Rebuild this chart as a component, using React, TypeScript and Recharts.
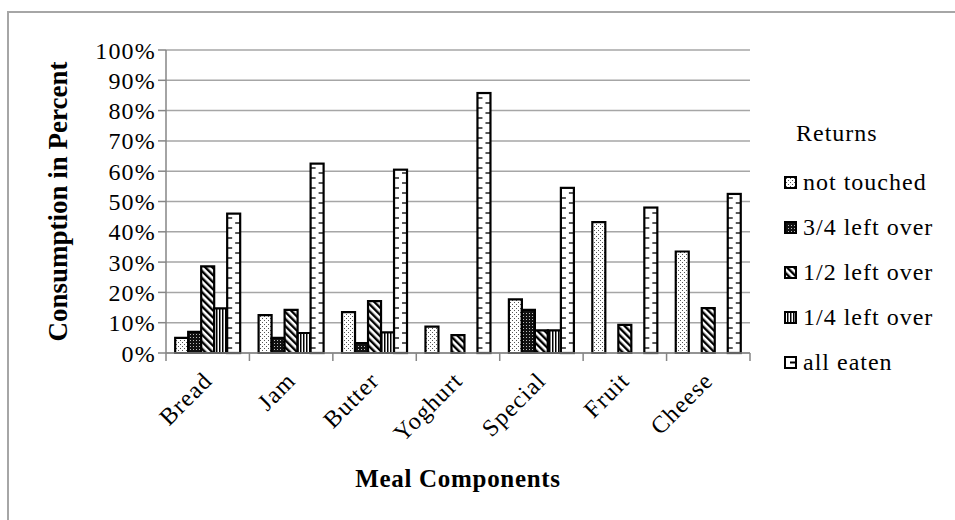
// App.tsx - meal returns chart (Recharts)
import { BarChart, Bar, XAxis, YAxis, CartesianGrid, Label } from 'recharts'

const categories = ['Bread', 'Jam', 'Butter', 'Yoghurt', 'Special', 'Fruit', 'Cheese']
const notTouched = [5, 12.5, 13.5, 8.7, 17.7, 43.2, 33.5]
const threeQuarterLeft = [7, 5, 3.3, null, 14.2, null, null]
const halfLeft = [28.6, 14.2, 17.1, 5.9, 7.5, 9.3, 14.8]
const quarterLeft = [14.7, 6.6, 6.8, null, 7.5, null, null]
const allEaten = [46, 62.5, 60.5, 85.8, 54.5, 48, 52.5]
const yTicks = [0, 10, 20, 30, 40, 50, 60, 70, 80, 90, 100]

const series = [
  { key: 'notTouched', name: 'not touched', fill: 'url(#pDots)' },
  { key: 'threeQuarter', name: '3/4 left over', fill: 'url(#pDark)' },
  { key: 'half', name: '1/2 left over', fill: 'url(#pDiag)' },
  { key: 'quarter', name: '1/4 left over', fill: 'url(#pVert)' },
  { key: 'allEaten', name: 'all eaten', fill: '#fff' },
]

const data = categories.map((name, i) => ({
  name,
  notTouched: notTouched[i],
  threeQuarter: threeQuarterLeft[i],
  half: halfLeft[i],
  quarter: quarterLeft[i],
  allEaten: allEaten[i],
}))

const FONT = "'Liberation Serif', 'Times New Roman', serif"
const GRID = '#a6a6a6'
const AXIS = '#868686'
const TICK_LEN = 8

// white bar with short dashes alternating on left/right edges
function EatenShape(props: any) {
  const { x, y, width, height } = props
  if (!height || height <= 0) return null
  const dashes = []
  let k = 0
  for (let yy = y + height - 5; yy > y + 3; yy -= 5) {
    const left = k % 2 === 0
    dashes.push(
      <line
        key={k}
        x1={left ? x : x + width - 5}
        x2={left ? x + 5 : x + width}
        y1={yy}
        y2={yy}
        stroke="#000"
        strokeWidth={1.3}
      />
    )
    k++
  }
  return (
    <g>
      <rect x={x} y={y} width={width} height={height} fill="#fff" />
      {dashes}
      <rect x={x} y={y} width={width} height={height} fill="none" stroke="#000" strokeWidth={2.2} />
    </g>
  )
}

// category label plus excel-style tick marks between categories
function CategoryTick({ x, y, payload, index, visibleTicksCount }: any) {
  const half = payload?.offset || 0
  return (
    <g>
      {half > 0 && (
        <line x1={x - half} x2={x - half} y1={y - TICK_LEN} y2={y} stroke={AXIS} strokeWidth={1.5} />
      )}
      {half > 0 && index === visibleTicksCount - 1 && (
        <line x1={x + half} x2={x + half} y1={y - TICK_LEN} y2={y} stroke={AXIS} strokeWidth={1.5} />
      )}
      <g transform={`translate(${x + 6},${y + 21})`}>
        <text
          textAnchor="end"
          transform="rotate(-45)"
          fontFamily={FONT}
          fontSize={24}
          letterSpacing={1.2}
          fill="#000"
        >
          {payload.value}
        </text>
      </g>
    </g>
  )
}

function LegendBox({ fill, eaten }: { fill: string; eaten?: boolean }) {
  return (
    <svg width={13} height={13} style={{ marginRight: 6, flex: 'none' }}>
      <rect x={1} y={1} width={11} height={11} fill={fill} stroke="#000" strokeWidth={2} />
      {eaten && <line x1={6} x2={12} y1={6.5} y2={6.5} stroke="#000" strokeWidth={2} />}
    </svg>
  )
}

function ReturnsLegend() {
  return (
    <div style={{ fontFamily: FONT, fontSize: 24, color: '#000', letterSpacing: 1 }}>
      <div style={{ marginLeft: 12, height: 45, lineHeight: '36px' }}>Returns</div>
      {series.map((s) => (
        <div key={s.key} style={{ display: 'flex', alignItems: 'center', height: 45 }}>
          <LegendBox fill={s.fill} eaten={s.key === 'allEaten'} />
          <span>{s.name}</span>
        </div>
      ))}
    </div>
  )
}

export default function App() {
  return (
    <div style={{ position: 'absolute', left: 0, top: 0, width: 955, height: 520, background: '#fff', overflow: 'hidden' }}>
      <div
        style={{
          position: 'absolute',
          left: 7,
          top: 11,
          width: 1000,
          height: 600,
          borderLeft: '2.5px solid #a6a6a6',
          borderTop: '2.5px solid #a6a6a6',
        }}
      />
      <div style={{ position: 'absolute', left: 0, top: 0 }}>
        <BarChart
          width={955}
          height={520}
          data={data}
          margin={{ top: 50, right: 205, bottom: 0, left: 0 }}
          barCategoryGap="11%"
          barGap={0}
        >
          <defs>
            <pattern id="pDots" width={4} height={4} patternUnits="userSpaceOnUse">
              <rect width={4} height={4} fill="#fff" />
              <rect x={0} y={0} width={1} height={1} fill="#555" />
              <rect x={2} y={2} width={1} height={1} fill="#555" />
            </pattern>
            <pattern id="pDark" width={3} height={3} patternUnits="userSpaceOnUse">
              <rect width={3} height={3} fill="#111" />
              <rect x={1} y={1} width={1} height={1} fill="#bbb" />
            </pattern>
            <pattern id="pDiag" width={5} height={5} patternUnits="userSpaceOnUse" patternTransform="rotate(-45)">
              <rect width={5} height={5} fill="#fff" />
              <rect x={0} y={0} width={2.4} height={5} fill="#000" />
            </pattern>
            <pattern id="pVert" width={3} height={3} patternUnits="userSpaceOnUse">
              <rect width={3} height={3} fill="#fff" />
              <rect x={0} y={0} width={1.5} height={3} fill="#000" />
            </pattern>
          </defs>
          <CartesianGrid vertical={false} stroke={GRID} strokeWidth={1.5} />
          <XAxis
            dataKey="name"
            tick={<CategoryTick />}
            tickLine={false}
            tickSize={6}
            tickMargin={2}
            axisLine={{ stroke: AXIS, strokeWidth: 1.5 }}
            interval={0}
            height={167}
          >
            <Label
              value="Meal Components"
              position="insideBottom"
              offset={33}
              style={{ fontFamily: FONT, fontSize: 25, fontWeight: 'bold', fill: '#000', letterSpacing: 0.7 }}
            />
          </XAxis>
          <YAxis
            domain={[0, 100]}
            ticks={yTicks}
            interval={0}
            tickFormatter={(v) => `${v}%`}
            width={166}
            tickSize={8}
            tickLine={{ stroke: AXIS, strokeWidth: 1.5 }}
            axisLine={{ stroke: AXIS, strokeWidth: 1.5 }}
            tick={{ fontFamily: FONT, fontSize: 24, fill: '#000', letterSpacing: 1.2 }}
            tickMargin={2}
          >
            <Label
              value="Consumption in Percent"
              angle={-90}
              position="insideLeft"
              offset={57}
              style={{ fontFamily: FONT, fontSize: 27, fontWeight: 'bold', fill: '#000', textAnchor: 'middle' }}
            />
          </YAxis>
          {series.map((s) =>
            s.key === 'allEaten' ? (
              <Bar
                key={s.key}
                dataKey={s.key}
                name={s.name}
                fill="#fff"
                shape={<EatenShape />}
                isAnimationActive={false}
              />
            ) : (
              <Bar
                key={s.key}
                dataKey={s.key}
                name={s.name}
                fill={s.fill}
                stroke="#000"
                strokeWidth={2.2}
                isAnimationActive={false}
              />
            )
          )}
        </BarChart>
      </div>
      <div style={{ position: 'absolute', left: 784, top: 115 }}>
        <ReturnsLegend />
      </div>
    </div>
  )
}
